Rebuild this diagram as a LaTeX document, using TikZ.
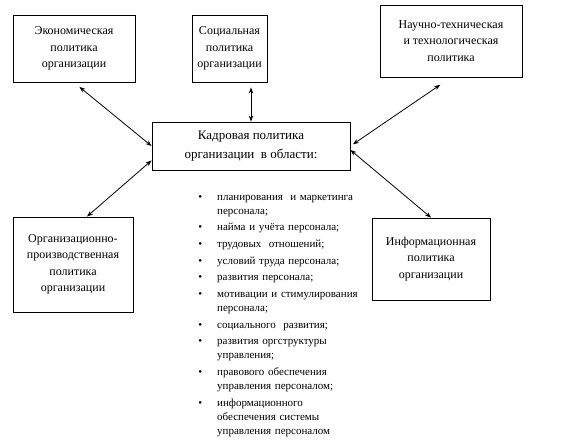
\documentclass[tikz,border=0pt]{standalone}
\usepackage{fontspec}
\setmainfont{Liberation Serif}
\usepackage{tikz}
\usetikzlibrary{positioning,arrows.meta}

\begin{document}
\begin{tikzpicture}[x=1pt, y=-1pt,
    node distance=2.3pt,
    policy/.style={rectangle, draw=black, line width=0.9pt, align=center, inner sep=2pt,
        font=\fontsize{12}{16.5}\selectfont},
    central/.style={rectangle, draw=black, line width=0.9pt, align=center, inner sep=2pt,
        minimum width=198pt, minimum height=48pt, font=\fontsize{13}{19}\selectfont},
    area/.style={inner sep=0pt, text width=165pt, align=left,
        font=\fontsize{11}{14}\selectfont},
    link/.style={{Stealth[length=6pt,width=4.5pt]}-{Stealth[length=6pt,width=4.5pt]}, line width=0.8pt},
]
\useasboundingbox (0,0) rectangle (563,445);

% policy boxes round the central one
\node[central] (kadr) at (251,146) {Кадровая политика\\организации \ в области:};
\node[policy, minimum width=122pt, minimum height=67pt] (econ) at (74,48.5)
    {Экономическая\\политика\\организации};
\node[policy, minimum width=75pt, minimum height=67pt] (social) at (229.5,48.5)
    {Социальная\\политика\\организации};
\node[policy, minimum width=142pt, minimum height=72pt] (science) at (451,41)
    {Научно-техническая\\и технологическая\\политика};
\node[policy, minimum width=120pt, minimum height=95pt] (orgprod) at (73,264.5)
    {Организационно-\\производственная\\политика\\организации};
\node[policy, minimum width=118pt, minimum height=82pt] (inform) at (431,259)
    {Информационная\\политика\\организации};

% areas of the personnel policy
\newcommand{\areabul}{\llap{\textbullet\hspace{15pt}}}
\node[area, anchor=north west] (a1) at (217,190) {\areabul\strut планирования \ и маркетинга\\персонала;\strut};
\node[area, below=of a1] (a2) {\areabul\strut найма и учёта персонала;\strut};
\node[area, below=of a2] (a3) {\areabul\strut трудовых \ отношений;\strut};
\node[area, below=of a3] (a4) {\areabul\strut условий труда персонала;\strut};
\node[area, below=of a4] (a5) {\areabul\strut развития персонала;\strut};
\node[area, below=of a5] (a6) {\areabul\strut мотивации и стимулирования\\персонала;\strut};
\node[area, below=of a6] (a7) {\areabul\strut социального \ развития;\strut};
\node[area, below=of a7] (a8) {\areabul\strut развития оргструктуры\\управления;\strut};
\node[area, below=of a8] (a9) {\areabul\strut правового обеспечения\\управления персоналом;\strut};
\node[area, below=of a9] (a10) {\areabul\strut информационного\\обеспечения системы\\управления персоналом\strut};

\draw[link, shorten <=7pt] (econ.south) -- (kadr.west);
\draw[link, shorten >=5pt] (kadr.north) -- (kadr.north |- social.south);
\draw[link, shorten <=3pt, shorten >=13pt] (kadr.east) -- (science.south);
\draw[link] ([yshift=10pt]kadr.south west) -- ([xshift=14pt]orgprod.north);
\draw[link] ([yshift=-4pt]kadr.east) -- (inform.north);
\end{tikzpicture}
\end{document}
